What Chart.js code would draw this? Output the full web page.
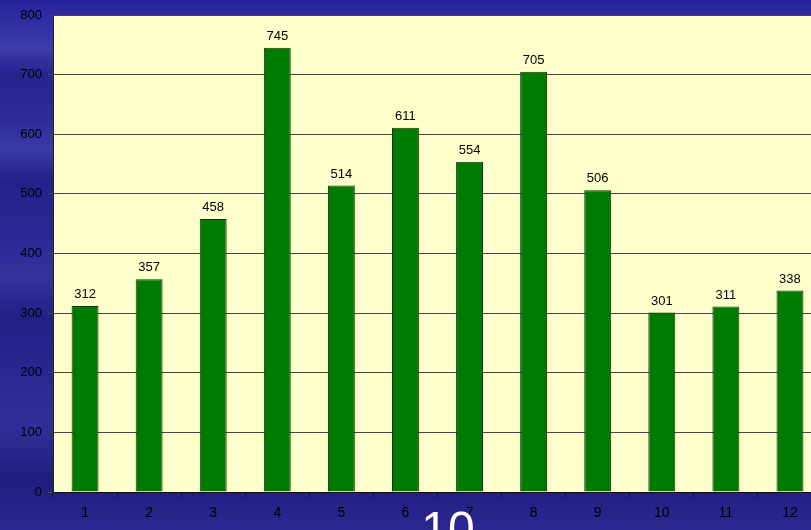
<!DOCTYPE html>
<html>
<head>
<meta charset="utf-8">
<script src="https://cdn.jsdelivr.net/npm/chart.js@4/dist/chart.umd.min.js"></script>
<style>
  html, body { margin: 0; padding: 0; }
  body {
    width: 811px; height: 530px; overflow: hidden; position: relative;
    background: linear-gradient(180deg, #26239a 0%, #2f2ea2 4%, #3c3cab 9%, #26248f 14%, #2b2a98 22%,
      #3a3aa8 28%, #232189 34%, #2a2894 45%, #35349f 52%, #221f85 60%, #2a2892 72%, #322f9b 80%,
      #211d7c 90%, #2a2790 100%);
    font-family: Arial, "Liberation Sans", sans-serif;
  }
  #wrap { position: absolute; left: 0; top: 0; width: 811px; height: 530px; overflow: hidden; }
  #big { position: absolute; left: 448px; top: 505px; transform: translateX(-50%);
    color: #fff; font-size: 48px; line-height: 48px; }
</style>
</head>
<body>
<div id="wrap"><canvas id="c" width="830" height="530"></canvas></div>
<div id="big">10</div>
<script>
const months = ['1', '2', '3', '4', '5', '6', '7', '8', '9', '10', '11', '12'];
const values = [312, 357, 458, 745, 514, 611, 554, 705, 506, 301, 311, 338];
const yTicks = [0, 100, 200, 300, 400, 500, 600, 700, 800];

// pale yellow plot area
const plotBg = {
  id: 'plotBg',
  beforeDraw(chart) {
    const a = chart.chartArea, ctx = chart.ctx;
    ctx.save();
    ctx.fillStyle = '#ffffcc';
    ctx.fillRect(a.left, a.top, a.right - a.left, a.bottom - a.top);
    ctx.restore();
  }
};

// value labels above each bar
const barLabels = {
  id: 'barLabels',
  afterDatasetsDraw(chart) {
    const ctx = chart.ctx;
    const meta = chart.getDatasetMeta(0);
    ctx.save();
    ctx.fillStyle = '#000';
    ctx.font = '13px Arial, "Liberation Sans", sans-serif';
    ctx.textAlign = 'center';
    ctx.textBaseline = 'bottom';
    meta.data.forEach((bar, i) => {
      ctx.fillText(values[i], bar.x, bar.y - 5);
    });
    ctx.restore();
  }
};

new Chart(document.getElementById('c'), {
  type: 'bar',
  data: {
    labels: months,
    datasets: [{
      data: values,
      backgroundColor: '#007a00',
      borderColor: '#153015',
      borderWidth: 1,
      barPercentage: 0.42,
      categoryPercentage: 1
    }]
  },
  options: {
    responsive: false,
    animation: false,
    layout: { padding: { top: 15, left: 0, right: 8, bottom: 0 } },
    plugins: { legend: { display: false }, tooltip: { enabled: false } },
    scales: {
      x: {
        offset: true,
        grid: { offset: true, drawOnChartArea: false, color: '#111', tickLength: 5 },
        border: { color: '#111', width: 1 },
        ticks: { color: '#000', font: { size: 14, family: 'Arial, "Liberation Sans", sans-serif' }, padding: 8, maxRotation: 0 },
        afterFit(s) { s.height = 38; }
      },
      y: {
        min: 0, max: 800,
        afterBuildTicks(s) { s.ticks = yTicks.map(v => ({ value: v })); },
        grid: { color: '#444', lineWidth: 1, tickLength: 5 },
        border: { color: '#222', width: 1 },
        ticks: { color: '#000', font: { size: 13, family: 'Arial, "Liberation Sans", sans-serif' }, padding: 6 },
        afterFit(s) { s.width = 53; }
      }
    }
  },
  plugins: [plotBg, barLabels]
});
</script>
</body>
</html>
